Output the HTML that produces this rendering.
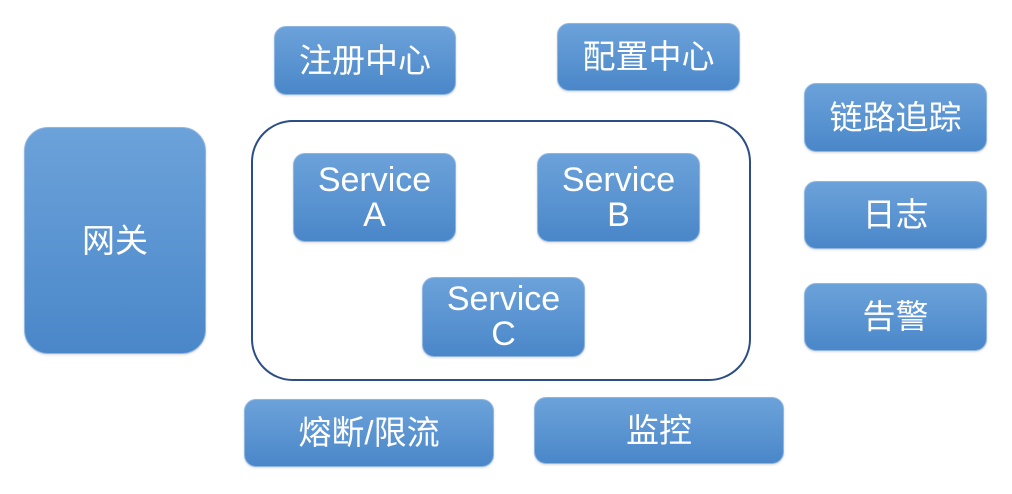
<!DOCTYPE html>
<html><head><meta charset="utf-8"><style>
body{margin:0;width:1012px;height:494px;background:#fff;position:relative;overflow:hidden;font-family:"Liberation Sans","Noto Sans CJK SC",sans-serif}
.b{position:absolute;box-sizing:border-box;border-radius:12px;background:linear-gradient(#6ca2da,#4a87c9);border:1px solid #8fb5e0;color:#fff;display:flex;align-items:center;justify-content:center;text-align:center;font-size:33px;line-height:36px;box-shadow:0 1px 2px rgba(0,0,0,.15)}
.s{font-size:34px;line-height:35px}
.c{position:absolute;left:251px;top:120px;width:500px;height:261px;box-sizing:border-box;border:2px solid #2c4d85;border-radius:42px}
</style></head><body>
<div class="c"></div>
<div class="b" style="left:274px;top:26px;width:182px;height:69px">注册中心</div>
<div class="b" style="left:557px;top:23px;width:183px;height:68px">配置中心</div>
<div class="b" style="left:804px;top:83px;width:183px;height:69px">链路追踪</div>
<div class="b" style="left:804px;top:181px;width:183px;height:68px">日志</div>
<div class="b" style="left:804px;top:283px;width:183px;height:68px">告警</div>
<div class="b" style="left:24px;top:127px;width:182px;height:227px;border-radius:24px">网关</div>
<div class="b s" style="left:293px;top:153px;width:163px;height:89px">Service<br>A</div>
<div class="b s" style="left:537px;top:153px;width:163px;height:89px">Service<br>B</div>
<div class="b s" style="left:422px;top:277px;width:163px;height:80px">Service<br>C</div>
<div class="b" style="left:244px;top:399px;width:250px;height:68px">熔断/限流</div>
<div class="b" style="left:534px;top:397px;width:250px;height:67px">监控</div>
</body></html>
